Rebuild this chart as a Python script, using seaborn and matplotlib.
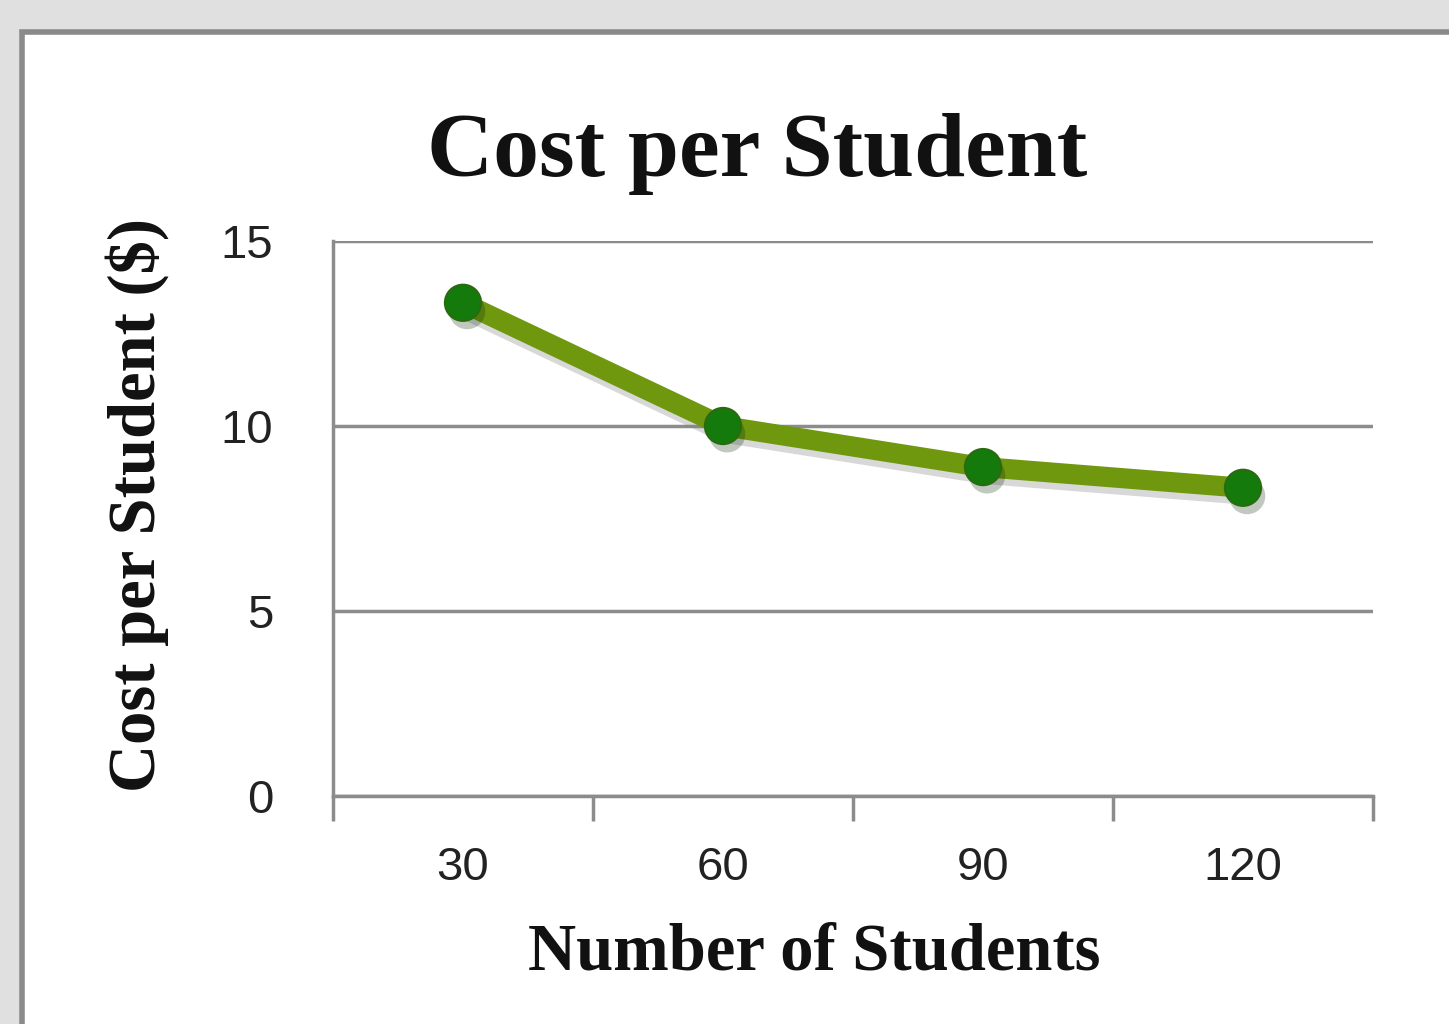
import numpy as np
import pandas as pd
import seaborn as sns
import matplotlib.pyplot as plt
import matplotlib.patheffects as pe
from matplotlib.patches import Rectangle

# veriler
students = ['30', '60', '90', '120']
cost = [13.33, 10.0, 8.89, 8.33]
y_ticks = [0, 5, 10, 15]

df = pd.DataFrame({'students': students, 'cost': cost})

sns.set_style('white')
plt.rcParams['font.family'] = ['Liberation Sans Narrow', 'Liberation Sans', 'DejaVu Sans']

fig = plt.figure(figsize=(14.49, 10.24), dpi=100, facecolor='#e0e0e0')

# beyaz grafik alani ve gri cerceve
fig.patches.append(Rectangle((22 / 1449, -0.05), 1.1, 1 - 32 / 1024 + 0.05,
                             transform=fig.transFigure, facecolor='white',
                             edgecolor='#8a8a8a', linewidth=4, zorder=-5))

ax = fig.add_axes([333 / 1449, 1 - 796 / 1024, (1373 - 333) / 1449, (796 - 241) / 1024])
ax.set_facecolor('none')
ax.set_zorder(2)

line_col = '#6f980f'
marker_col = '#157a0c'
shadow = [pe.SimpleLineShadow(offset=(2, -5), shadow_color='gray', alpha=0.3), pe.Normal()]

sns.lineplot(data=df, x='students', y='cost', ax=ax, color=line_col, linewidth=14.5,
             sort=False, path_effects=shadow, zorder=3)
sns.scatterplot(data=df, x='students', y='cost', ax=ax, color=marker_col, s=680,
                edgecolor='#2a6a10', linewidth=1.5, zorder=4,
                path_effects=[pe.SimplePatchShadow(offset=(3, -6), alpha=0.25), pe.Normal()])

ax.set_xlim(-0.5, 3.5)
ax.set_ylim(0, 15)
ax.set_yticks(y_ticks)
ax.yaxis.grid(True, color='#8c8c8c', linewidth=2.5)
ax.set_axisbelow(True)

for s in ['top', 'right']:
    ax.spines[s].set_visible(False)
for s in ['left', 'bottom']:
    ax.spines[s].set_color('#8c8c8c')
    ax.spines[s].set_linewidth(2.5)

# kategori sinirlarinda tick isaretleri
ax.set_xticks(np.arange(len(students)))
ax.set_xticks(np.arange(-0.5, len(students)), minor=True)
ax.tick_params(axis='x', which='major', length=0, pad=36, labelsize=34, labelcolor='#222222')
ax.tick_params(axis='x', which='minor', length=18, width=2.5, color='#8c8c8c', direction='out')
ax.tick_params(axis='y', length=15, width=2.5, color='#8c8c8c', direction='out',
               pad=28, labelsize=34, labelcolor='#222222')
ax.tick_params(axis='x', bottom=True, which='both')

ax.set_xlabel('')
ax.set_ylabel('')

serif = ['Liberation Serif', 'DejaVu Serif']
fig.text(757 / 1449, 1 - 154 / 1024, 'Cost per Student', ha='center', va='center',
         fontsize=66, fontweight='bold', family=serif, color='#111111')
fig.text(814 / 1449, 1 - 953 / 1024, 'Number of Students', ha='center', va='center',
         fontsize=48, fontweight='bold', family=serif, color='#111111')
fig.text(137 / 1449, 1 - 505 / 1024, 'Cost per Student ($)', ha='center', va='center',
         rotation=90, fontsize=48, fontweight='bold', family=serif, color='#111111')

fig.savefig('out.png', dpi=100, facecolor=fig.get_facecolor())
